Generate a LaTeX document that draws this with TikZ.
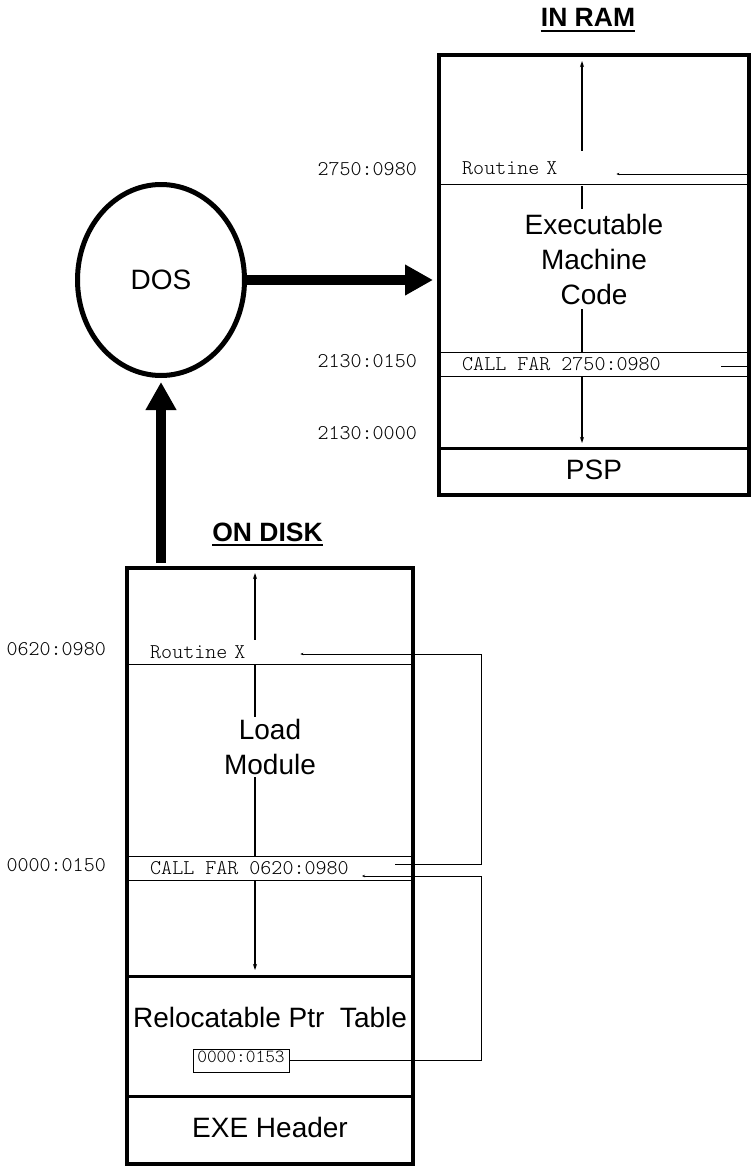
\documentclass[tikz,border=0pt]{standalone}
\usepackage{fontspec}
\setmainfont{Liberation Sans}
\newfontfamily\codefont{lmmonolt10-regular.otf}
\usetikzlibrary{arrows.meta,shapes.geometric,positioning}
\tikzset{mem box/.style={draw,line width=4pt,inner sep=0pt},
         big text/.style={font=\fontsize{28}{35}\selectfont,align=center},
         addr/.style={font=\codefont\fontsize{21}{22}\selectfont,inner sep=0pt,anchor=east},
         code band/.style={font=\codefont\fontsize{21}{22}\selectfont,fill=white,anchor=west,
                           minimum height=24pt,inner xsep=7pt,align=left},
         title/.style={font=\bfseries\fontsize{26.5}{30}\selectfont,inner sep=0pt,anchor=base},
         thin rule/.style={line width=1pt},
         thick rule/.style={line width=3pt},
         big arrow/.style={line width=10pt,-{Triangle[length=28pt,width=29pt]}},
         mem arrow/.style={line width=1.2pt,{Stealth[length=6pt,width=4pt]}-{Stealth[length=6pt,width=4pt]}},
         link/.style={line width=0.8pt,-{Stealth[length=3pt,width=2.5pt]}},
}

\begin{document}
\begin{tikzpicture}[x=1pt,y=-1pt]
\useasboundingbox (0,0) rectangle (752,1167);
% boxes
\node[mem box,minimum width=310pt,minimum height=440pt] (ram) at (594,275) {};
\node[mem box,minimum width=286pt,minimum height=596pt] (disk) at (270,866) {};
\node[ellipse,draw,line width=5pt,minimum width=167pt,minimum height=191pt,big text] (dos) at (161,280) {DOS};
% titles
\node[title] (inram) at (588,27) {IN RAM};
\node[title] (ondisk) at (267.5,541) {ON DISK};
\draw[line width=2pt] ([yshift=-3.5pt]inram.base west) -- ([yshift=-3.5pt]inram.base east);
\draw[line width=2pt] ([yshift=-3.5pt]ondisk.base west) -- ([yshift=-3.5pt]ondisk.base east);
% growth arrows
\coordinate (ramtop) at (582,61);
\coordinate (rambot) at (582,443);
\coordinate (disktop) at (255,573);
\coordinate (diskbot) at (255,970);
\draw[mem arrow] (ramtop) -- (rambot);
\draw[mem arrow] (disktop) -- (diskbot);
% in ram
\node[code band,text width=147pt,minimum height=35pt] (ramrx) at (455,168.5) {\mbox{Routine X}};
\node[big text,fill=white,inner sep=5pt] (exec) at (594,259) {Executable\\Machine\\Code};
\node[code band] (ramcall) at (455,364) {CALL FAR 2750:0980};
\node[big text] (psp) at (594,470) {PSP};
\node[addr] (a1) at (417,169.5) {2750:0980};
\node[addr] (a2) at (417,361) {2130:0150};
\node[addr] (a3) at (417,433.5) {2130:0000};
\foreach \y in {184,352,376}
    \draw[thin rule] (439,\y) -- (749,\y);
\draw[thick rule] (439,448) -- (749,448);
% on disk
\node[code band,text width=143pt] (drx) at (143,652) {\mbox{Routine X}};
\node[big text,fill=white,inner sep=2pt] (load) at (270,747) {Load\\Module};
\node[code band] (dcall) at (143,868) {CALL FAR 0620:0980};
\node[big text] (ptr) at (270,1017) {Relocatable Ptr\ \ Table};
\node[draw,line width=0.8pt,font=\codefont\fontsize{18.5}{20}\selectfont,inner ysep=0pt,
      text height=13pt,text depth=10pt,minimum width=96pt] (reloc) at (241,1060.5) {0000:0153};
\node[big text] (exe) at (270,1127) {EXE Header};
\node[addr] (d1) at (106,649.5) {0620:0980};
\node[addr] (d2) at (106,865.5) {0000:0150};
\foreach \y in {664,856,880}
    \draw[thin rule] (127,\y) -- (413,\y);
\draw[thick rule] (127,976) -- (413,976);
\draw[thick rule] (127,1096) -- (413,1096);
% DOS arrows
\draw[big arrow,shorten >=4pt] (dos.east) -- (dos.east -| ram.west);
\draw[big arrow,shorten <=3pt,shorten >=4pt] (disk.north -| dos.south) -- (dos.south);
% fixups
\coordinate (ramrxin) at (749,174);
\coordinate (ramcallout) at (721,366);
\draw[link] (ramrxin) -- (ramrx.east |- ramrxin);
\draw[line width=0.8pt] (ramcallout) -- (749,366);
\coordinate (dcallout) at (395,864);
\coordinate (dcallin) at (362,876);
\draw[link] (dcallout) -- ++(86,0) |- ([yshift=-2pt]drx.east);
\draw[link] (reloc.east) -- ++(192,0) |- (dcallin);
\end{tikzpicture}
\end{document}
